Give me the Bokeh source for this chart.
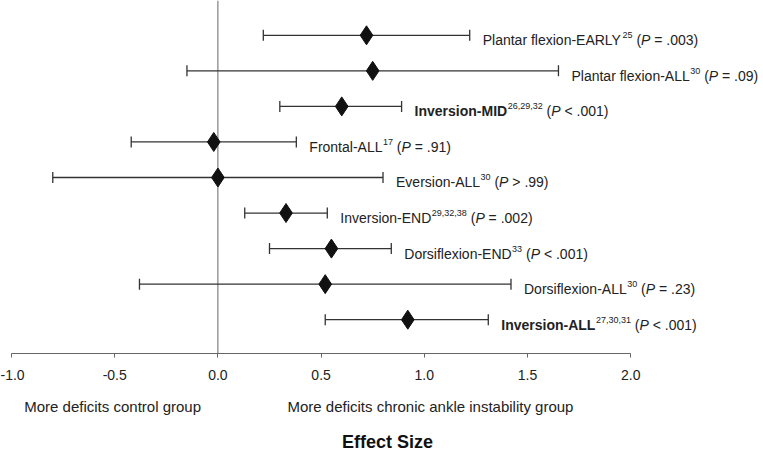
from bokeh.plotting import figure
from bokeh.models import (ColumnDataSource, Whisker, TeeHead, Span, LinearAxis,
                          FixedTicker, NumeralTickFormatter, Range1d)
from bokeh.core.properties import value
from bokeh.embed import file_html
from bokeh.resources import INLINE

# ---------------- data ----------------
outcomes = ["Plantar flexion-EARLY", "Plantar flexion-ALL", "Inversion-MID",
            "Frontal-ALL", "Eversion-ALL", "Inversion-END", "Dorsiflexion-END",
            "Dorsiflexion-ALL", "Inversion-ALL"]
refs = ["25", "30", "26,29,32", "17", "30", "29,32,38", "33", "30", "27,30,31"]
p_rel = ["=", "=", "<", "=", ">", "=", "<", "=", "<"]
p_val = [".003", ".09", ".001", ".91", ".99", ".002", ".001", ".23", ".001"]
is_bold = [False, False, True, False, False, False, False, False, True]
effect = [0.72, 0.75, 0.60, -0.02, 0.00, 0.33, 0.55, 0.52, 0.92]
ci_low = [0.22, -0.15, 0.30, -0.42, -0.80, 0.13, 0.25, -0.38, 0.52]
ci_high = [1.22, 1.65, 0.89, 0.38, 0.80, 0.53, 0.84, 1.42, 1.31]
tick_values = [-1.0, -0.5, 0.0, 0.5, 1.0, 1.5, 2.0]
side_labels = ["More deficits control group",
               "More deficits chronic ankle instability group"]
side_label_pos = [-0.51, 1.03]
axis_title = "Effect Size"

# ---------------- layout constants ----------------
FONT = "Liberation Sans"
W, H = 763, 454
LEFT = 11
PX_PER_UNIT = 206.4
x_end = -1.0 + (W - LEFT) / PX_PER_UNIT
LABEL_SIZE = 14.0
SUP_SIZE = 9.0
GAP = 13

# Arial / Liberation Sans advance widths (1/1000 em)
REG = {' ': 278, '(': 333, ')': 333, ',': 278, '-': 333, '.': 278, '<': 584,
       '=': 584, '>': 584, 'A': 667, 'D': 722, 'E': 667, 'F': 611, 'I': 278,
       'L': 556, 'M': 833, 'N': 722, 'P': 667, 'R': 722, 'Y': 667, 'a': 556,
       'd': 556, 'e': 556, 'f': 278, 'i': 222, 'l': 222, 'n': 556, 'o': 556,
       'r': 333, 's': 500, 't': 278, 'v': 500, 'x': 500}
for d in "0123456789":
    REG[d] = 556
BOLD = dict(REG)
BOLD.update({'A': 722, 'L': 611, 'n': 611, 'o': 611, 'r': 389, 's': 556,
             'v': 556, 'i': 278, 'l': 278, 'd': 611, 'x': 556, 'f': 333,
             't': 333})


def tw(s, size, table):
    return sum(table.get(c, 556) for c in s) * size / 1000.0


row_y = list(range(len(outcomes), 0, -1))

# label segments (no leading / trailing spaces: SVG collapses them)
seg = dict(x=[], y=[], text=[], xo=[], yo=[], size=[], style=[])


def add(x, y, t, xo, yo, size, style):
    seg["x"].append(x); seg["y"].append(y); seg["text"].append(t)
    seg["xo"].append(xo); seg["yo"].append(yo)
    seg["size"].append(f"{size}px"); seg["style"].append(style)


BASE = 5.0  # baseline below row centre (px)
SPACE = tw(" ", LABEL_SIZE, REG)
for i in range(len(outcomes)):
    x0, y0 = ci_high[i], row_y[i]
    off = GAP
    style = "bold" if is_bold[i] else "normal"
    add(x0, y0, outcomes[i], off, BASE, LABEL_SIZE, style)
    off += tw(outcomes[i], LABEL_SIZE, BOLD if is_bold[i] else REG) + 0.5
    add(x0, y0, refs[i], off, BASE - 5.0, SUP_SIZE, "normal")
    off += tw(refs[i], SUP_SIZE, REG) + SPACE
    add(x0, y0, "(", off, BASE, LABEL_SIZE, "normal")
    off += tw("(", LABEL_SIZE, REG)
    add(x0, y0, "P", off, BASE, LABEL_SIZE, "italic")
    off += tw("P", LABEL_SIZE, REG) + SPACE
    rest = f"{p_rel[i]} {p_val[i]})"
    add(x0, y0, rest, off, BASE, LABEL_SIZE, "normal")

# ---------------- figure ----------------
p = figure(width=W, height=H, x_range=Range1d(-1.0, x_end),
           y_range=Range1d(0.049, 9.979), output_backend="svg", title=None,
           toolbar_location=None, y_axis_location=None,
           min_border_left=LEFT, min_border_right=0, min_border_top=0)
p.grid.visible = False
p.outline_line_color = None
p.background_fill_color = "white"
p.border_fill_color = "white"

zero = Span(location=0, dimension="height", line_color="#666666",
            line_width=1, level="underlay")
p.add_layout(zero)

src = ColumnDataSource(dict(y=row_y, lo=ci_low, hi=ci_high, eff=effect))
wh = Whisker(source=src, base="y", lower="lo", upper="hi", dimension="width",
             line_color="#333333", line_width=1.3, level="underlay",
             upper_head=TeeHead(size=11, line_color="#333333", line_width=1.3),
             lower_head=TeeHead(size=11, line_color="#333333", line_width=1.3))
p.add_layout(wh)
p.scatter("eff", "y", source=src, marker="diamond", size=19,
          fill_color="#111111", line_color="#111111")

lab = ColumnDataSource(seg)
p.text(x="x", y="y", text="text", source=lab,
       x_offset={"field": "xo"}, y_offset={"field": "yo"},
       text_font_size={"field": "size"}, text_font_style={"field": "style"},
       text_font=value(FONT), text_baseline="alphabetic", text_align="left",
       text_color="#222222")

ax = p.xaxis[0]
ax.ticker = FixedTicker(ticks=tick_values)
ax.formatter = NumeralTickFormatter(format="0.0")
ax.bounds = (-1.0, 2.0)
ax.minor_tick_line_color = None
ax.major_tick_in = 0
ax.major_tick_out = 4
ax.axis_line_color = "#666666"
ax.major_tick_line_color = "#666666"
ax.major_label_standoff = 12
ax.major_label_text_font = FONT
ax.major_label_text_font_size = "14px"
ax.major_label_text_color = "#222222"

ax2 = LinearAxis(ticker=FixedTicker(ticks=side_label_pos),
                 major_label_overrides={k: v for k, v in zip(side_label_pos, side_labels)},
                 bounds=(-1.0, 2.0))
ax2.axis_line_color = None
ax2.major_tick_line_color = None
ax2.minor_tick_line_color = None
ax2.major_tick_out = 0
ax2.major_tick_in = 0
ax2.major_label_standoff = 15
ax2.major_label_text_font = FONT
ax2.major_label_text_font_size = "15px"
ax2.major_label_text_color = "#222222"
ax2.axis_label = axis_title
ax2.axis_label_text_font = FONT
ax2.axis_label_text_font_style = "bold"
ax2.axis_label_text_font_size = "18px"
ax2.axis_label_text_color = "#111111"
ax2.axis_label_text_line_height = 0.8
ax2.axis_label_standoff = 14
p.add_layout(ax2, "below")

open("out.html", "w").write(file_html(p, INLINE))
